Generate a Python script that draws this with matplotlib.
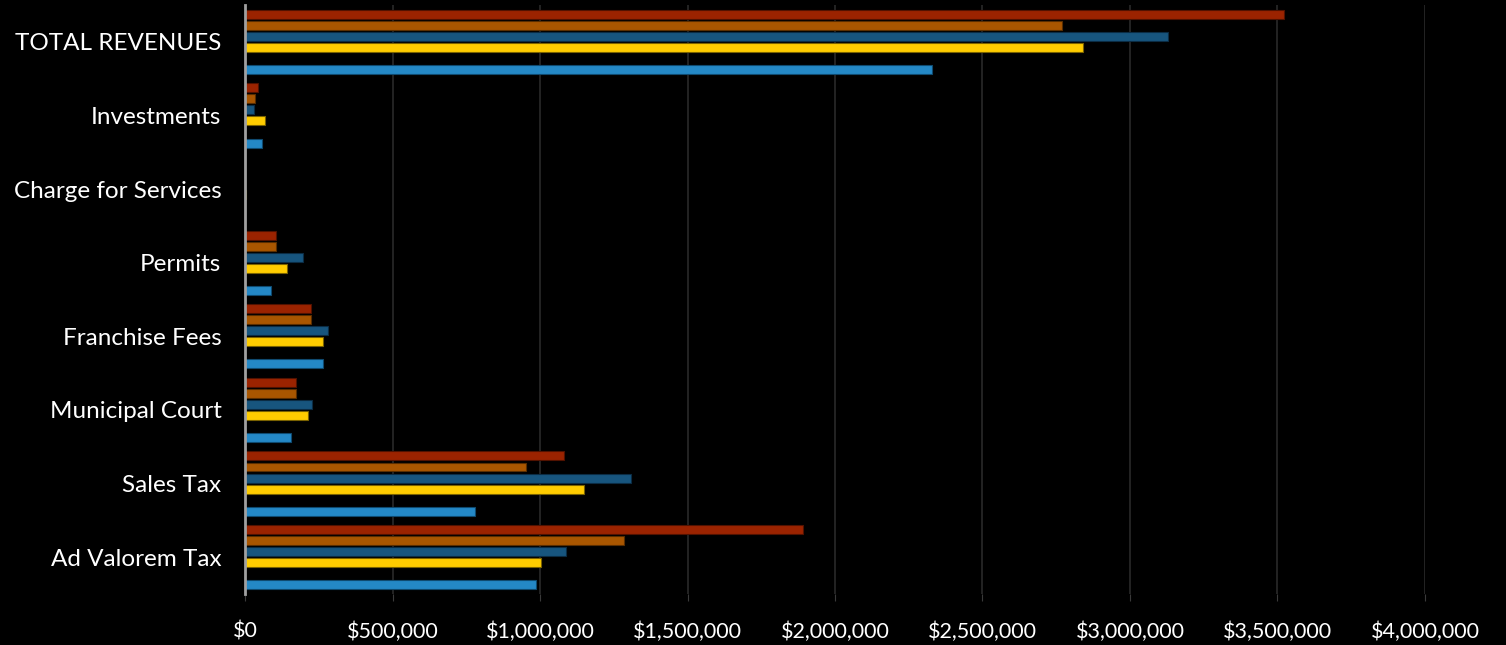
import matplotlib.pyplot as plt
import numpy as np
from matplotlib.ticker import FuncFormatter, MultipleLocator

categories = ["Ad Valorem Tax", "Sales Tax", "Municipal Court", "Franchise Fees",
              "Permits", "Charge for Services", "Investments", "TOTAL REVENUES"]

# series listed bottom-to-top within each group
series_1 = [986000, 780000, 156000, 264000, 88000, 0, 58000, 2330000]
series_2 = [0, 0, 0, 0, 0, 0, 0, 0]
series_3 = [1003000, 1149000, 214000, 264000, 142000, 3000, 68000, 2840000]
series_4 = [1088000, 1308000, 227000, 281000, 197000, 1000, 30000, 3130000]
series_5 = [1285000, 953000, 173000, 224000, 105000, 0, 34000, 2770000]
series_6 = [1890000, 1081000, 173000, 224000, 105000, 0, 44000, 3522000]

series = [series_1, series_2, series_3, series_4, series_5, series_6]
colors = ["#2488c6", "#000000", "#ffcc00", "#17557e", "#a95600", "#9b2300"]
edges = ["#0f4a70", "#000000", "#7a6200", "#0b2c44", "#5a2e00", "#521200"]

plt.rcParams["font.family"] = ["Lato", "DejaVu Sans"]

fig = plt.figure(figsize=(15.06, 6.45), dpi=100, facecolor="black")
ax = fig.add_axes([245 / 1506, 1 - 594 / 645, (1425 - 245) / 1506, 589 / 645])
ax.set_facecolor("black")

y = np.arange(len(categories))
slot = 0.15
bar_h = 0.122
for i, vals in enumerate(series):
    offs = (i - 2.5) * slot
    ax.barh(y + offs, vals, height=bar_h, color=colors[i],
            edgecolor=edges[i], linewidth=0.8, zorder=3)

ax.set_xlim(0, 4000000)
ax.set_ylim(-0.5, len(categories) - 0.5)
ax.xaxis.set_major_locator(MultipleLocator(500000))
ax.xaxis.set_major_formatter(FuncFormatter(lambda v, p: f"${v:,.0f}"))
ax.grid(axis="x", color="#2a2a2a", linewidth=1.2, zorder=0)
ax.set_axisbelow(True)

ax.set_yticks(y)
ax.set_yticklabels(categories)
ax.tick_params(axis="y", length=0, pad=17, labelsize=17.5, labelcolor="white")
ax.tick_params(axis="x", length=5, color="#3a3a3a", pad=15, labelsize=15.5,
               labelcolor="white")

for s in ["top", "right", "bottom"]:
    ax.spines[s].set_visible(False)
ax.spines["left"].set_color("#a0a0a0")
ax.spines["left"].set_linewidth(2)
ax.spines["left"].set_zorder(4)

fig.savefig("out.png", dpi=100, facecolor="black")
